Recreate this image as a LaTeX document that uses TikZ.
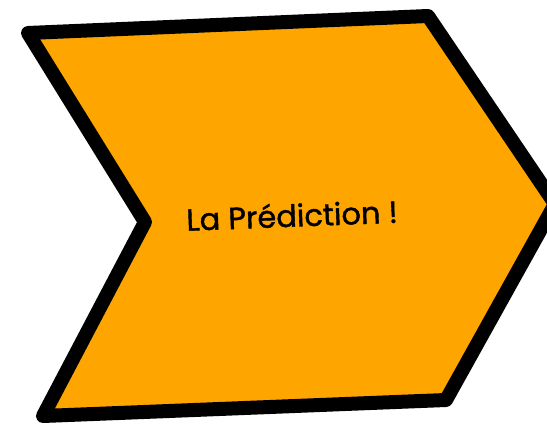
\documentclass[tikz,border=0pt]{standalone}
\usepackage{fontspec}
\setmainfont{Poppins}[FakeBold=1.3]
\definecolor{chevronorange}{HTML}{FFA500}

\begin{document}
\begin{tikzpicture}[x=1pt,y=-1pt]
\clip (0,0) rectangle (547,428);
\useasboundingbox (0,0) rectangle (547,428);
% chevron
\draw[line width=14pt,line join=round,fill=chevronorange]
  (28,33)--(428,16)--(555,204)--(446,400)--(43,416)--(145,222)--cycle;
\node[rotate=2.2,font=\fontsize{30.5}{34}\selectfont] (label) at (292,215) {La Prédiction !};
\end{tikzpicture}
\end{document}
